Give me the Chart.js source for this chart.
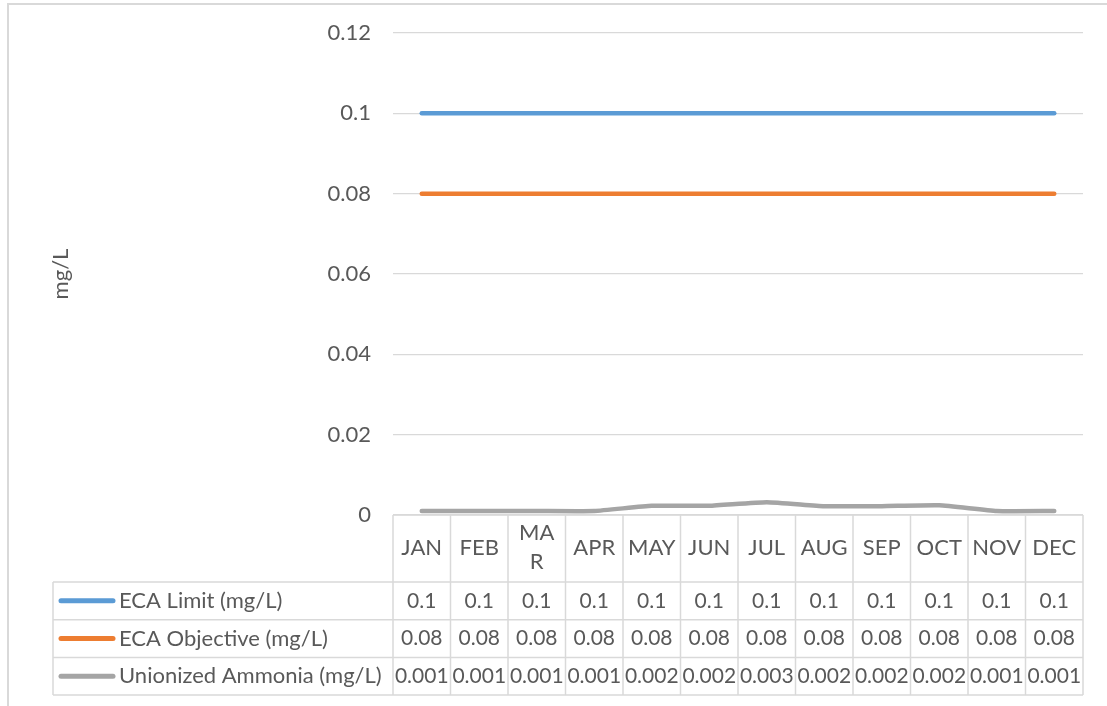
<!DOCTYPE html>
<html>
<head>
<meta charset="utf-8">
<script src="https://cdn.jsdelivr.net/npm/chart.js@4/dist/chart.umd.min.js"></script>
<style>
  html, body { margin: 0; padding: 0; background: #ffffff; }
  #wrap { position: relative; width: 1107px; height: 706px; }
</style>
</head>
<body>
<div id="wrap"><canvas id="c"></canvas></div>
<script>
// ---- data ----
const months = ["JAN", "FEB", "MAR", "APR", "MAY", "JUN", "JUL", "AUG", "SEP", "OCT", "NOV", "DEC"];
const monthLines = [["JAN"], ["FEB"], ["MA", "R"], ["APR"], ["MAY"], ["JUN"], ["JUL"], ["AUG"], ["SEP"], ["OCT"], ["NOV"], ["DEC"]];
const ecaLimit = [0.1, 0.1, 0.1, 0.1, 0.1, 0.1, 0.1, 0.1, 0.1, 0.1, 0.1, 0.1];
const ecaObjective = [0.08, 0.08, 0.08, 0.08, 0.08, 0.08, 0.08, 0.08, 0.08, 0.08, 0.08, 0.08];
const unionizedAmmonia = [0.001, 0.001, 0.001, 0.001, 0.0023, 0.0023, 0.0032, 0.0022, 0.0022, 0.0024, 0.001, 0.001];
const seriesNames = ["ECA Limit (mg/L)", "ECA Objective (mg/L)", "Unionized Ammonia (mg/L)"];
const tableDecimals = [1, 2, 3];
const yTicks = [0, 0.02, 0.04, 0.06, 0.08, 0.1, 0.12];
const yTitle = "mg/L";

const FONT = "Lato, 'Open Sans', sans-serif";
const TEXT = "#595959";
const GRID = "#d9d9d9";
const colors = ["#5B9BD5", "#ED7D31", "#A5A5A5"];
const seriesData = [ecaLimit, ecaObjective, unionizedAmmonia];
const FS = 22;

const tablePlugin = {
  id: "dataTable",
  beforeDraw(chart) {
    const ctx = chart.ctx;
    ctx.save();
    ctx.strokeStyle = GRID;
    ctx.lineWidth = 2;
    ctx.strokeRect(8, 4, chart.width + 20, chart.height + 20);
    ctx.restore();
  },
  afterDraw(chart) {
    const ctx = chart.ctx;
    const xs = chart.scales.x;
    const area = chart.chartArea;
    const n = months.length;
    const colW = (area.right - area.left) / n;
    const top = area.bottom;
    const headerH = 67;
    const rowH = 37.7;
    const legendLeft = 53;
    const tableBottom = top + headerH + rowH * seriesNames.length;

    ctx.save();
    ctx.strokeStyle = GRID;
    ctx.lineWidth = 1.5;
    for (let i = 0; i <= n; i++) {
      const x = (i < n ? xs.getPixelForValue(i) - colW / 2 : xs.getPixelForValue(n - 1) + colW / 2);
      ctx.beginPath();
      ctx.moveTo(x, top);
      ctx.lineTo(x, tableBottom);
      ctx.stroke();
    }
    ctx.beginPath();
    ctx.moveTo(legendLeft, top + headerH);
    ctx.lineTo(legendLeft, tableBottom);
    ctx.stroke();
    ctx.beginPath();
    ctx.moveTo(area.left, top);
    ctx.lineTo(area.right, top);
    ctx.stroke();
    for (let r = 0; r <= seriesNames.length; r++) {
      const y = top + headerH + rowH * r;
      ctx.beginPath();
      ctx.moveTo(legendLeft, y);
      ctx.lineTo(area.right, y);
      ctx.stroke();
    }

    ctx.fillStyle = TEXT;
    ctx.font = FS + "px " + FONT;
    ctx.textAlign = "center";
    ctx.textBaseline = "middle";
    for (let i = 0; i < n; i++) {
      const x = xs.getPixelForValue(i);
      const lines = monthLines[i];
      const lh = 29;
      const cy = top + headerH / 2 - 1;
      lines.forEach((t, k) => {
        ctx.fillText(t, x, cy + (k - (lines.length - 1) / 2) * lh);
      });
    }
    for (let r = 0; r < seriesNames.length; r++) {
      const cy = top + headerH + rowH * r + rowH / 2;
      ctx.save();
      ctx.strokeStyle = colors[r];
      ctx.lineWidth = 5;
      ctx.lineCap = "round";
      ctx.beginPath();
      ctx.moveTo(61, cy);
      ctx.lineTo(113, cy);
      ctx.stroke();
      ctx.restore();
      ctx.font = FS + "px " + FONT;
      ctx.textAlign = "left";
      ctx.fillText(seriesNames[r], 119, cy);
      ctx.textAlign = "center";
      ctx.font = (FS - 1) + "px " + FONT;
      for (let i = 0; i < n; i++) {
        const v = seriesData[r][i];
        ctx.fillText(v.toFixed(tableDecimals[r]), xs.getPixelForValue(i), cy);
      }
    }
    ctx.restore();
  }
};

new Chart(document.getElementById("c"), {
  type: "line",
  data: {
    labels: months,
    datasets: seriesNames.map((name, r) => ({
      label: name,
      data: seriesData[r],
      borderColor: colors[r],
      backgroundColor: colors[r],
      borderWidth: 4.5,
      borderCapStyle: "round",
      borderJoinStyle: "round",
      pointRadius: 0,
      tension: 0.15,
      fill: false
    }))
  },
  options: {
    responsive: true,
    maintainAspectRatio: false,
    animation: false,
    layout: { padding: { top: 33, bottom: 191, right: 24, left: 0 } },
    plugins: { legend: { display: false }, tooltip: { enabled: false } },
    scales: {
      x: { display: false, offset: true },
      y: {
        min: 0,
        max: 0.12,
        afterFit(scale) { scale.width = 393; scale.paddingTop = 0; scale.paddingBottom = 0; },
        afterBuildTicks(scale) { scale.ticks = yTicks.map(v => ({ value: v })); },
        border: { display: false },
        grid: { color: GRID, lineWidth: 1.3, drawTicks: false },
        ticks: {
          color: TEXT,
          font: { family: FONT, size: FS },
          padding: 22,
          callback: v => String(+v.toFixed(2))
        },
        title: {
          display: true,
          text: yTitle,
          color: TEXT,
          font: { family: FONT, size: FS },
          padding: { top: 48, bottom: 0 }
        }
      }
    }
  },
  plugins: [tablePlugin]
});
</script>
</body>
</html>
